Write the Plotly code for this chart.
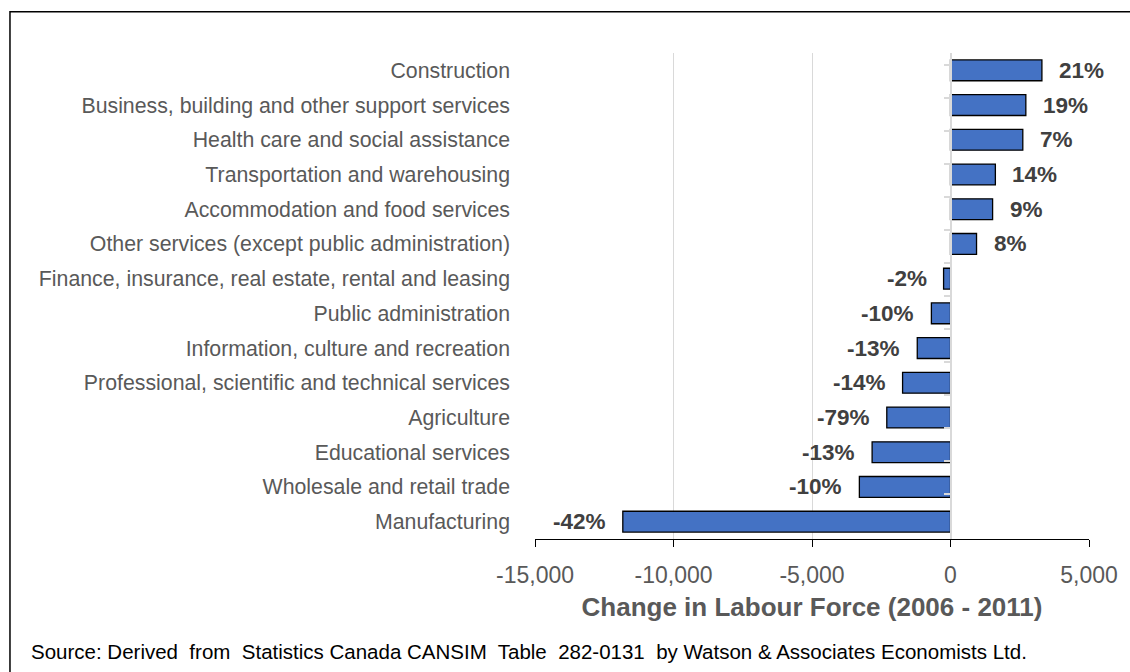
import plotly.graph_objects as go

# Change in labour force by industry, 2006 - 2011
industries = [
    "Construction",
    "Business, building and other support services",
    "Health care and social assistance",
    "Transportation and warehousing",
    "Accommodation and food services",
    "Other services (except public administration)",
    "Finance, insurance, real estate, rental and leasing",
    "Public administration",
    "Information, culture and recreation",
    "Professional, scientific and technical services",
    "Agriculture",
    "Educational services",
    "Wholesale and retail trade",
    "Manufacturing",
]
change = [3300, 2720, 2610, 1620, 1520, 940, -250, -690, -1200, -1730, -2300, -2830, -3290, -11830]
pct_change = ["21%", "19%", "7%", "14%", "9%", "8%", "-2%", "-10%", "-13%", "-14%", "-79%", "-13%", "-10%", "-42%"]

x_ticks = [-15000, -10000, -5000, 0, 5000]
x_tick_labels = ["-15,000", "-10,000", "-5,000", "0", "5,000"]
x_range = [-15000, 5000]

W, H = 1130, 672
M_L, M_R, M_T, M_B = 535, 40.5, 52.7, 132.5
plot_w = W - M_L - M_R
plot_h = H - M_T - M_B

FONT = "Liberation Sans, Arial, sans-serif"
GREY = "#595959"
LABEL = "#404040"
GRID = "#d9d9d9"

fig = go.Figure()

fig.add_trace(go.Bar(
    x=change,
    y=industries,
    orientation="h",
    width=0.6,
    marker=dict(color="#4472C4", line=dict(color="black", width=1.3)),
    hoverinfo="x+y",
))

# invisible trace carrying the category axis drawn at x = 0
fig.add_trace(go.Scatter(
    x=[0] * len(industries),
    y=industries,
    yaxis="y2",
    mode="markers",
    marker=dict(opacity=0),
    hoverinfo="skip",
    showlegend=False,
))

# value labels just outside the bar ends
for ind, val, txt in zip(industries, change, pct_change):
    fig.add_annotation(
        x=val, y=ind, text=f"<b>{txt}</b>", showarrow=False,
        xanchor="left" if val >= 0 else "right",
        xshift=15 if val >= 0 else -15,
        font=dict(family=FONT, size=22.5, color=LABEL),
    )

zero_pos = (0 - x_range[0]) / (x_range[1] - x_range[0])

fig.update_layout(
    width=W, height=H,
    margin=dict(l=M_L, r=M_R, t=M_T, b=M_B, pad=0),
    paper_bgcolor="white",
    plot_bgcolor="white",
    showlegend=False,
    font=dict(family=FONT, color=GREY),
    bargap=0.4,
    xaxis=dict(
        range=x_range,
        tickvals=x_ticks,
        ticktext=x_tick_labels,
        showgrid=True, gridcolor=GRID, gridwidth=1,
        zeroline=False,
        showline=True, linecolor="black", linewidth=1,
        ticks="outside", ticklen=7, tickcolor="black", tickwidth=1,
        ticklabelstandoff=8,
        tickfont=dict(family=FONT, size=23, color=GREY),
        title=dict(text="<b>Change in Labour Force (2006 - 2011)</b>",
                   font=dict(family=FONT, size=26, color=GREY), standoff=11),
        fixedrange=True,
    ),
    yaxis=dict(
        type="category",
        categoryorder="array", categoryarray=industries,
        autorange="reversed",
        showline=False, showgrid=False, zeroline=False,
        ticks="", ticklabelstandoff=24,
        tickfont=dict(family=FONT, size=21.3, color=GREY),
        fixedrange=True,
    ),
    yaxis2=dict(
        type="category",
        categoryorder="array", categoryarray=industries,
        autorange="reversed",
        overlaying="y", anchor="free", position=zero_pos, side="left",
        showline=True, linecolor=GRID, linewidth=1.5,
        ticks="outside", tickson="boundaries", ticklen=6, tickcolor=GRID, tickwidth=1.5,
        showticklabels=False, showgrid=False, zeroline=False,
        fixedrange=True,
    ),
)

# outer chart frame (extends past the right and bottom edges)
fig.add_shape(
    type="rect", xref="paper", yref="paper",
    x0=(9.5 - M_L) / plot_w, x1=(W + 20 - M_L) / plot_w,
    y0=(H - M_B - (H + 20)) / plot_h, y1=(H - M_B - 11.5) / plot_h,
    line=dict(color="black", width=1.5), fillcolor="rgba(0,0,0,0)", layer="below",
)

fig.add_annotation(
    xref="paper", yref="paper",
    x=(29 - M_L) / plot_w, y=(H - M_B - 652) / plot_h,
    xanchor="left", yanchor="middle", showarrow=False,
    text="Source: Derived  from  Statistics Canada CANSIM  Table  282-0131  by Watson & Associates Economists Ltd.",
    font=dict(family=FONT, size=20.5, color="black"),
)

fig.write_html("out.html")
